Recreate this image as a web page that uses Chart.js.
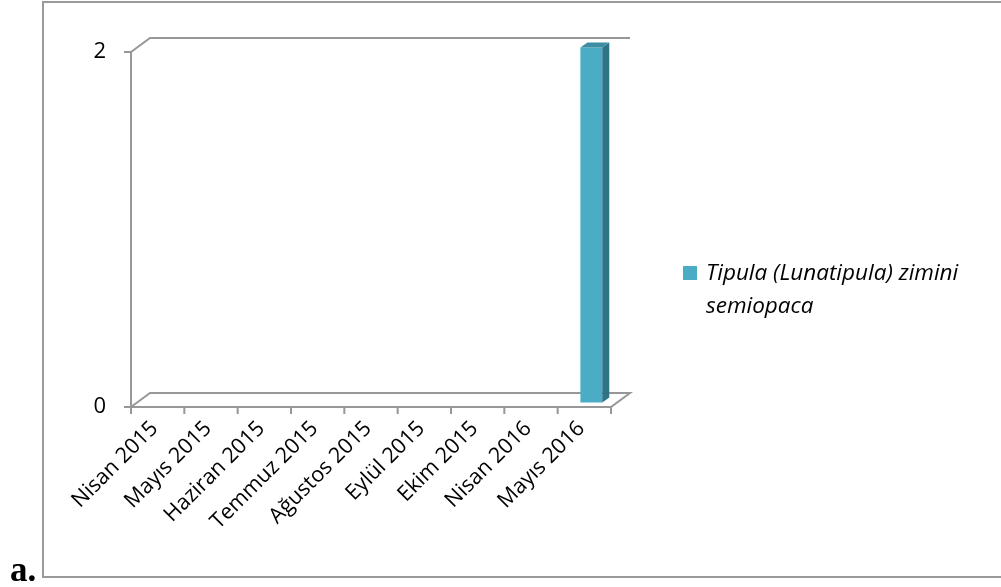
<!DOCTYPE html>
<html><head><meta charset="utf-8">
<script src="https://cdn.jsdelivr.net/npm/chart.js@4.4.0/dist/chart.umd.min.js"></script>
<style>html,body{margin:0;padding:0;background:#fff;}#wrap{width:1001px;height:587px;position:relative}</style>
</head><body><div id="wrap"><canvas id="c" width="1001" height="587"></canvas></div>
<script>
const categories = ['Nisan 2015','Mayıs 2015','Haziran 2015','Temmuz 2015','Ağustos 2015','Eylül 2015','Ekim 2015','Nisan 2016','Mayıs 2016'];
const seriesNameLines = ['Tipula (Lunatipula) zimini','semiopaca'];
const seriesValues = [0,0,0,0,0,0,0,0,2];
const yTickValues = [0,2];
const panelLabel = 'a.';

const DEPTH_X = 19, DEPTH_Y = -14;      // 3D floor/wall depth
const BAR_SHIFT_X = 7, BAR_SHIFT_Y = -4.5; // bar sits in the middle of the depth
const BAR_DX = 7, BAR_DY = -5;          // bar thickness
const LINE = '#979797';
const FONT = '"Open Sans", "Noto Sans", sans-serif';

const frame3d = {
  id: 'frame3d',
  beforeDatasetsDraw(chart) {
    const {ctx, chartArea: a, scales: {x, y}} = chart;
    ctx.save();
    ctx.strokeStyle = '#9a9a9a';
    ctx.lineWidth = 2;
    ctx.strokeRect(43, 2, 1010, 575);
    ctx.strokeStyle = LINE;
    ctx.lineWidth = 2;
    const y0 = y.getPixelForValue(0), yTop = y.getPixelForValue(yTickValues[yTickValues.length-1]);
    ctx.beginPath();
    ctx.moveTo(a.left, yTop); ctx.lineTo(a.left + DEPTH_X, yTop + DEPTH_Y); ctx.lineTo(a.right + DEPTH_X, yTop + DEPTH_Y);
    ctx.moveTo(a.left, y0); ctx.lineTo(a.right, y0); ctx.lineTo(a.right + DEPTH_X, y0 + DEPTH_Y);
    ctx.lineTo(a.left + DEPTH_X, y0 + DEPTH_Y); ctx.lineTo(a.left, y0);
    ctx.moveTo(a.left, yTop); ctx.lineTo(a.left, y0 + 7);
    yTickValues.forEach(v => { const p = y.getPixelForValue(v); ctx.moveTo(a.left - 7, p); ctx.lineTo(a.left, p); });
    const n = categories.length, step = (a.right - a.left) / n;
    for (let i = 0; i <= n; i++) { const px = a.left + i * step; ctx.moveTo(px, y0); ctx.lineTo(px, y0 + 7); }
    ctx.stroke();
    ctx.restore();
    ctx.save();
    ctx.translate(BAR_SHIFT_X, BAR_SHIFT_Y);
  },
  afterDatasetsDraw(chart) {
    const {ctx} = chart;
    const meta = chart.getDatasetMeta(0);
    meta.data.forEach(el => {
      const p = el.getProps(['x','y','base','width'], true);
      if (Math.abs(p.base - p.y) < 0.5) return;
      const l = p.x - p.width/2, r = p.x + p.width/2, t = p.y, b = p.base;
      ctx.fillStyle = '#2f7386';
      ctx.beginPath(); ctx.moveTo(r, t); ctx.lineTo(r + BAR_DX, t + BAR_DY); ctx.lineTo(r + BAR_DX, b + BAR_DY); ctx.lineTo(r, b); ctx.closePath(); ctx.fill();
      ctx.fillStyle = '#3c8ea4';
      ctx.beginPath(); ctx.moveTo(l, t); ctx.lineTo(l + BAR_DX, t + BAR_DY); ctx.lineTo(r + BAR_DX, t + BAR_DY); ctx.lineTo(r, t); ctx.closePath(); ctx.fill();
    });
    ctx.restore();
  },
  afterDraw(chart) {
    const {ctx} = chart;
    ctx.save();
    ctx.fillStyle = '#4bacc6';
    ctx.fillRect(683, 266, 14, 14);
    ctx.fillStyle = '#000';
    ctx.font = 'italic 22.5px ' + FONT;
    ctx.textBaseline = 'alphabetic';
    ctx.fillText(seriesNameLines[0], 706, 280);
    ctx.fillText(seriesNameLines[1], 706, 313);
    ctx.font = 'bold 35px "Liberation Serif", serif';
    ctx.fillText(panelLabel, 10, 581);
    ctx.restore();
  }
};

function build() {
  new Chart(document.getElementById('c'), {
    type: 'bar',
    data: {
      labels: categories,
      datasets: [{
        label: seriesNameLines.join(' '),
        data: seriesValues,
        backgroundColor: '#4bacc6',
        borderWidth: 0,
        categoryPercentage: 1,
        barPercentage: 0.41,
        clip: false
      }]
    },
    options: {
      responsive: false,
      animation: false,
      devicePixelRatio: 1,
      layout: {padding: {left: 71, right: 390, top: 52, bottom: 0}},
      plugins: {legend: {display: false}, tooltip: {enabled: false}},
      scales: {
        x: {
          offset: true,
          grid: {display: false},
          border: {display: false},
          ticks: {maxRotation: 45, minRotation: 45, autoSkip: false, color: '#000', padding: 1, labelOffset: -3, font: {family: FONT, size: 21.5}},
          afterFit(s) { s.height = 180; }
        },
        y: {
          min: 0, max: 2,
          grid: {display: false},
          border: {display: false},
          afterBuildTicks(s) { s.ticks = yTickValues.map(v => ({value: v})); },
          ticks: {color: '#000', padding: 17, font: {family: FONT, size: 22}},
          afterFit(s) { s.width = 60; }
        }
      }
    },
    plugins: [frame3d]
  });
}
Promise.all([
  document.fonts.load('20px "Open Sans"'),
  document.fonts.load('italic 20px "Open Sans"'),
  document.fonts.load('bold 31px "Liberation Serif"')
]).then(build, build);
</script></body></html>
